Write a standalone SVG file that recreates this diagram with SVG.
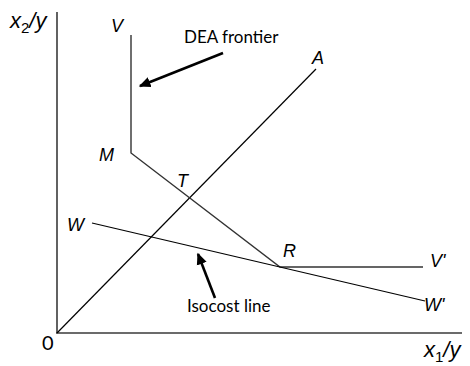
<svg xmlns="http://www.w3.org/2000/svg" width="470" height="366" viewBox="0 0 470 366">
<defs>
<style>
.ax{stroke:#3a3a3a;stroke-width:1.6;fill:none}
.ln{stroke:#000;stroke-width:1.2;fill:none}
.fr{stroke:#333;stroke-width:1.4;fill:none}
.arr{stroke:#000;stroke-width:2.6;fill:none;marker-end:url(#ah)}
.it{font-family:"Liberation Sans",Arial,sans-serif;font-style:italic;font-size:18px;fill:#000}
.axl{font-family:"Liberation Sans",Arial,sans-serif;font-style:italic;font-size:22px;fill:#000}
.lb{font-family:Lato,"Open Sans",sans-serif;font-size:17px;fill:#000}
.zero{font-family:Lato,"Open Sans",sans-serif;font-size:20px;fill:#000}
</style>
<marker id="ah" markerWidth="5" markerHeight="5" refX="4" refY="2.5" orient="auto" markerUnits="strokeWidth">
<path d="M0,0.5 L4.5,2.5 L0,4.5 Z" fill="#000"/>
</marker>
</defs>
<g id="axes">
<line class="ax" x1="57" y1="12" x2="57" y2="333"/>
<line class="ax" x1="56" y1="333" x2="462" y2="333"/>
</g>
<g id="connectors">
<line id="ray-0A" class="ln" x1="57" y1="333" x2="316" y2="69"/>
<polyline id="dea-frontier" class="fr" points="131,35 131,153 280,267 423,267"/>
<line id="isocost" class="ln" x1="92" y1="223" x2="425" y2="301"/>
<line id="arrow-dea" class="arr" x1="223" y1="53" x2="140" y2="86"/>
<line id="arrow-iso" class="arr" x1="215" y1="298" x2="198" y2="254"/>
</g>
<g id="labels">
<text class="axl" x="10" y="28">x<tspan font-size="15" dy="5" font-style="normal">2</tspan><tspan dy="-5">/y</tspan></text>
<text class="axl" x="424" y="357">x<tspan font-size="15" dy="5" font-style="normal">1</tspan><tspan dy="-5">/y</tspan></text>
<text class="zero" x="42" y="350">0</text>
<text class="it" x="111" y="32">V</text>
<text class="it" x="312" y="64">A</text>
<text class="it" x="99" y="161">M</text>
<text class="it" x="177" y="187">T</text>
<text class="it" x="67" y="231">W</text>
<text class="it" x="283" y="257">R</text>
<text class="it" x="430" y="267">V'</text>
<text class="it" x="424" y="311">W'</text>
<text class="lb" x="184" y="43">DEA frontier</text>
<text class="lb" x="187" y="312">Isocost line</text>
</g>
</svg>
